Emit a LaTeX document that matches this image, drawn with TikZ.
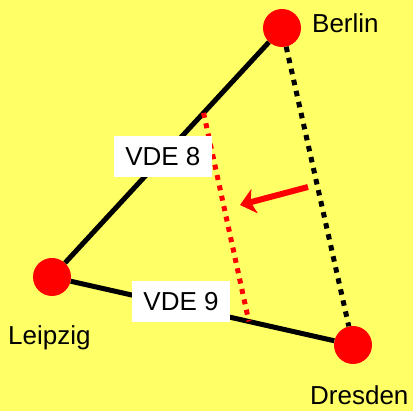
\documentclass[tikz,border=0pt]{standalone}
\usepackage{fontspec}
\setmainfont{Liberation Sans}
\usetikzlibrary{calc,arrows.meta}
\definecolor{bgyellow}{RGB}{255,255,102}

\begin{document}
\begin{tikzpicture}[x=1pt,y=-1pt,font=\fontsize{26}{30}\selectfont]
	\fill[bgyellow] (0,0) rectangle (413,411);
	\coordinate (b) at (282,28);
	\coordinate (l) at (52,277);
	\coordinate (d) at (353,345);
	\coordinate (r1) at ($(b)!0.341!(l)$);
	\coordinate (r2) at ($(l)!0.654!(d)$);
	\coordinate (a1) at (308,187);
	\coordinate (a2) at (240,205);
	\node[circle,fill=red,minimum size=38pt,inner sep=0pt] (Berlin) at (b){};
	\node[circle,fill=red,minimum size=38pt,inner sep=0pt] (Leipzig) at (l){};
	\node[circle,fill=red,minimum size=38pt,inner sep=0pt] (Dresden) at (d){};
	\draw[line width=5pt] (Berlin) -- (Leipzig) -- (Dresden);
	\draw[line width=5pt,dash pattern=on 5.5pt off 5.8pt] (Berlin) -- (Dresden);
	\draw[red,line width=5pt,dash pattern=on 5pt off 5.6pt] (r1) -- (r2);
	\draw[red,line width=6pt,-{Stealth[length=15pt,width=25pt,inset=4pt]}] (a1) -- (a2);
	\node[fill=white,minimum width=98pt,minimum height=41pt,inner sep=0pt] (vde8) at ($(b)!0.518!(l)$){VDE 8};
	\node[fill=white,minimum width=98pt,minimum height=41pt,inner sep=0pt] (vde9) at (181,302){VDE 9};
	\node[anchor=base west,inner sep=0pt] (lb) at (312,33){Berlin};
	\node[anchor=base west,inner sep=0pt] (ll) at (8,345){Leipzig};
	\node[anchor=base west,inner sep=0pt] (ld) at (310,405){Dresden};
\end{tikzpicture}
\end{document}
